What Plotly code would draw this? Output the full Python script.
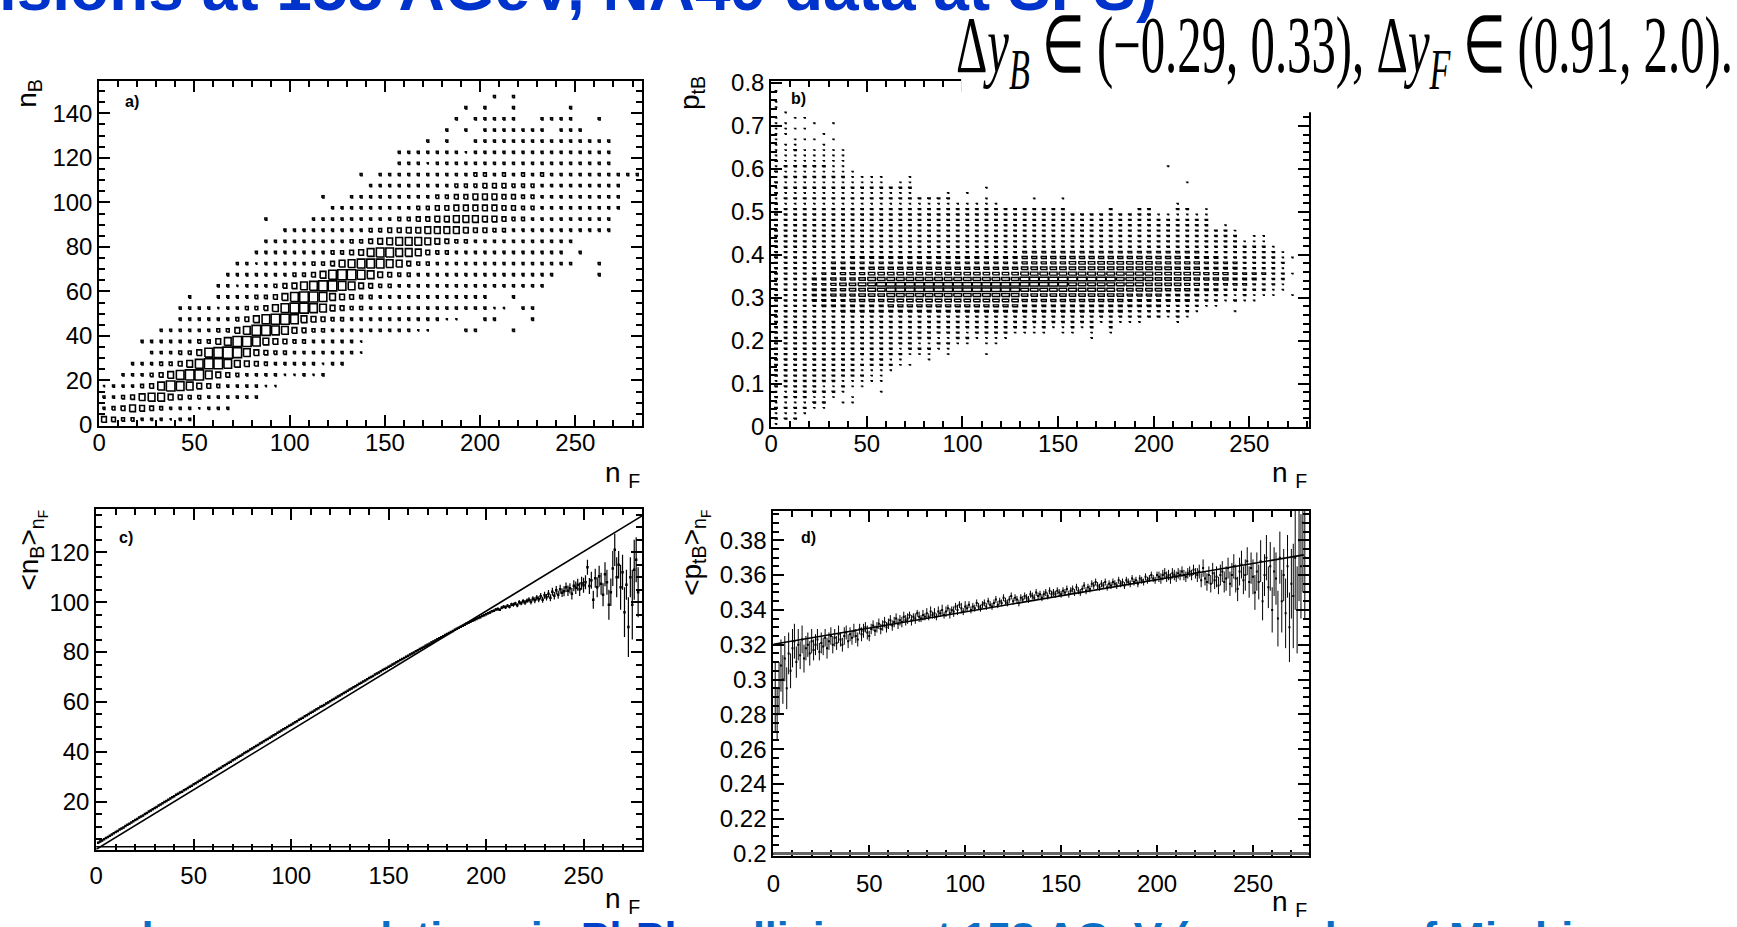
import plotly.graph_objects as go

W, H = 1737, 927
FONT = "Liberation Sans, Arial, Helvetica, sans-serif"

# ---------------- panel a) n_B vs n_F : box histogram (bins 5 x 5) ----------------
A_NF_BIN = 5.0
A_NB_BIN = 5.0
# one entry per n_B bin (0-5, 5-10, ...): (first n_F bin index, box levels per n_F bin; '.' = empty, 'a' = 10)
A_ROWS = [
    (0, "5433222122"),
    (0, "23465432221222"),
    (0, "22346775433222222"),
    (0, "1222347987543222211"),
    (2, "2223468997543222211212"),
    (3, "22233468998654322222122"),
    (5, "22233589a97543322222221"),
    (4, "222222335799865433222221"),
    (6, "22222233579987543322222222211...22...2"),
    (8, "222222346899865433222222222211..22...2"),
    (8, "22221223346899875433222222222222211.22"),
    (9, "2..22223346899865433222222222222..2"),
    (12, "22122234578998754332222222222222222"),
    (13, "22222223346899875433222222222222222....2"),
    (14, "221222223346788876433222222222222222..2"),
    (16, "222222223345788776433222222222222.2"),
    (17, "222222222334567776543322222222222"),
    (19, "22222222233445566665443322222222222"),
    (17, "2....22222222233445566655433222222222"),
    (24, "2222222223344555554433222222222"),
    (23, "2..22222222233445554433222222222"),
    (28, "222222222333444333222222222"),
    (27, "2.2222222222332323232222222222"),
    (31, "22212222222222222222222"),
    (31, "22222221222222222222222"),
    (34, "2.2..222222222222222"),
    (36, "2.2.2222222.222"),
    (37, "2.22222..2222..2"),
    (38, "2.2..2.....2"),
    (41, "2.2"),
]

# ---------------- panel b) p_tB vs n_F : box histogram (bins 5 x 0.0125) ----------------
B_NF_BIN = 5.0
B_PT_BIN = 0.0125
# one entry per n_F bin: (first p_t bin index, levels going up in p_t; spaces only group the digits)
B_COLS = [
    (0, "1212121212 2222222222 2222222222 2222222222 2212121212 1111111101 101"),
    (1, "212121222 2222222222 2222222222 2222222222 2121212121 111011101"),
    (1, "212122222 2222222222 2222222222 2222222222 2121212121 12110101"),
    (2, "12122222 2222222222 2222222222 2222222222 2121212121 11010101"),
    (3, "1212222 2222222222 2223333322 2222222222 2121212121 1101001"),
    (3, "1212122 2222222222 2233333332 2222222222 2121212121 11101"),
    (5, "12122 2222222222 2233444433 3222222222 2121212111 1101001"),
    (4, "101212 2222222222 2333445443 3222222222 2121212111 11"),
    (4, "110112 2222222222 2334455443 3322222222 212121110"),
    (7, "112 1212222222 2334556543 3322222222 2121211"),
    (8, "11 1222222222 2334566654 3322222222 2121211"),
    (6, "1011 1222222222 2334567654 3322222222 2121211"),
    (10, "1212222222 2345677654 3322222222 21212"),
    (11, "112122222 2345677654 3322222222 212121"),
    (11, "101222222 2345677654 3322222222 2121211"),
    (13, "1212222 2345677654 3322222222 212"),
    (12, "11212222 2345677654 3322222222 212"),
    (14, "121222 2345677654 3322222222 212"),
    (13, "1121222 2345677654 3322222222 2121"),
    (15, "12222 2345677654 3322222222 21"),
    (15, "12122 2345677654 3322222222 2101"),
    (16, "1222 2345677654 3322222222 21"),
    (13, "1011222 2345677654 3322222222 21101"),
    (15, "11222 2345677654 3322222222 21"),
    (16, "1222 2345677654 3322222222 2"),
    (17, "122 2345677654 3322222222 2"),
    (17, "122 2334567765 4432222222 2"),
    (17, "112 2334567765 4432222222 201"),
    (17, "122 2334567765 4432222222 2"),
    (18, "12 2334567765 4432222222 2"),
    (17, "112 2334567765 4432222222 201"),
    (17, "122 2334566765 5432222222"),
    (18, "12 2334566765 5432222222"),
    (16, "1122 2334566765 5432222222"),
    (19, "1 2334566765 5432222222"),
    (17, "122 2334566765 5432222222 2"),
    (19, "1 2334556665 5432222222"),
    (19, "1 2233456665 5432222222"),
    (19, "1 2233456665 5432222222 2"),
    (20, "2233455665 5432222222 2"),
    (20, "2233455555 4432222221"),
    (20, "1223345555 4432222221 000000001"),
    (19, "1 2223345554 4432222221 21"),
    (20, "1223344554 4332222221 200001"),
    (21, "122334454 4332222221"),
    (22, "12233443 3322222221 1"),
    (22, "12233443 3322222"),
    (23, "1223443 32222221"),
    (21, "102123333 3222221"),
    (23, "1223332 22221"),
    (23, "1122332 222211"),
    (24, "122232 222211"),
    (24, "112222 2221"),
    (25, "11221 211"),
    (24, "100010 01"),
]

# ---------------- panel c) <n_B> vs n_F (n_F = 1, 2, ...) ----------------
C_MEAN = [
    3.5, 4.0, 4.4, 4.9, 5.4, 5.8, 6.3, 6.8, 7.3, 7.8,
    8.2, 8.8, 9.2, 9.6, 10.2, 10.7, 11.1, 11.6, 12.1, 12.6,
    13.0, 13.6, 14.0, 14.4, 15.0, 15.4, 16.0, 16.4, 16.9, 17.4,
    17.8, 18.4, 18.8, 19.3, 19.8, 20.2, 20.7, 21.2, 21.7, 22.1,
    22.7, 23.1, 23.6, 24.0, 24.6, 25.0, 25.5, 26.0, 26.4, 27.0,
    27.4, 27.9, 28.4, 28.8, 29.4, 29.8, 30.3, 30.8, 31.2, 31.8,
    32.2, 32.7, 33.2, 33.6, 34.2, 34.6, 35.1, 35.6, 36.0, 36.6,
    37.0, 37.5, 38.0, 38.4, 38.9, 39.5, 39.9, 40.3, 40.9, 41.3,
    41.8, 42.3, 42.7, 43.3, 43.7, 44.2, 44.7, 45.1, 45.6, 46.1,
    46.6, 47.0, 47.6, 48.0, 48.5, 49.0, 49.4, 49.9, 50.4, 50.8,
    51.3, 51.8, 52.2, 52.8, 53.2, 53.6, 54.2, 54.6, 55.1, 55.6,
    56.0, 56.5, 57.0, 57.4, 58.0, 58.4, 58.8, 59.4, 59.8, 60.3,
    60.8, 61.2, 61.7, 62.2, 62.6, 63.1, 63.6, 64.0, 64.5, 65.0,
    65.4, 65.9, 66.3, 66.8, 67.3, 67.7, 68.2, 68.6, 69.1, 69.6,
    70.0, 70.4, 71.0, 71.4, 71.8, 72.3, 72.8, 73.2, 73.6, 74.1,
    74.5, 75.0, 75.4, 75.9, 76.3, 76.8, 77.2, 77.6, 78.1, 78.5,
    79.0, 79.4, 79.8, 80.3, 80.7, 81.2, 81.6, 82.0, 82.5, 82.9,
    83.3, 83.8, 84.2, 84.6, 85.1, 85.5, 85.9, 86.3, 86.8, 87.2,
    87.6, 88.0, 88.4, 88.9, 89.3, 89.7, 90.1, 90.5, 90.9, 91.4,
    91.7, 92.1, 92.5, 92.9, 93.3, 93.7, 94.0, 94.5, 94.8, 95.2,
    95.6, 95.9, 96.4, 96.6, 97.1, 97.3, 97.0, 97.8, 98.2, 98.0,
    98.6, 98.2, 99.1, 99.0, 99.5, 98.8, 100.0, 99.6, 100.4, 99.9,
    100.6, 101.0, 100.2, 101.4, 100.8, 101.8, 101.2, 102.4, 101.0, 102.8,
    102.0, 103.4, 101.8, 104.2, 102.6, 104.8, 103.0, 105.2, 103.8, 104.4,
    106.0, 104.6, 105.6, 103.4, 106.6, 105.8, 107.0, 105.2, 107.6, 106.8,
    108.0, 114.0, 106.5, 108.8, 101.0, 109.6, 106.0, 110.4, 107.4, 103.0,
    111.2, 108.0, 99.0, 104.0, 113.5, 121.0, 110.0, 115.0, 106.0, 112.0,
    96.0, 107.0, 90.0, 110.0, 99.0, 113.0, 117.0, 104.0,
]
C_ERR = [
    0.4, 0.4, 0.4, 0.3, 0.3, 0.3, 0.3, 0.3, 0.3, 0.3,
    0.3, 0.3, 0.3, 0.3, 0.3, 0.3, 0.3, 0.3, 0.3, 0.3,
    0.3, 0.3, 0.3, 0.3, 0.3, 0.3, 0.3, 0.3, 0.3, 0.3,
    0.3, 0.3, 0.3, 0.3, 0.3, 0.3, 0.3, 0.3, 0.3, 0.3,
    0.3, 0.3, 0.3, 0.3, 0.3, 0.3, 0.3, 0.3, 0.3, 0.3,
    0.3, 0.3, 0.3, 0.3, 0.3, 0.3, 0.3, 0.3, 0.3, 0.3,
    0.3, 0.3, 0.3, 0.3, 0.3, 0.3, 0.3, 0.3, 0.3, 0.3,
    0.3, 0.3, 0.3, 0.3, 0.3, 0.3, 0.3, 0.3, 0.3, 0.3,
    0.3, 0.3, 0.3, 0.3, 0.3, 0.3, 0.3, 0.3, 0.3, 0.3,
    0.3, 0.3, 0.3, 0.3, 0.3, 0.3, 0.3, 0.3, 0.3, 0.3,
    0.3, 0.3, 0.3, 0.3, 0.3, 0.3, 0.3, 0.3, 0.3, 0.3,
    0.3, 0.3, 0.3, 0.3, 0.3, 0.3, 0.3, 0.3, 0.3, 0.3,
    0.3, 0.3, 0.3, 0.3, 0.3, 0.3, 0.3, 0.3, 0.3, 0.3,
    0.3, 0.3, 0.3, 0.3, 0.3, 0.3, 0.3, 0.3, 0.3, 0.3,
    0.3, 0.3, 0.3, 0.3, 0.3, 0.3, 0.3, 0.3, 0.3, 0.3,
    0.3, 0.3, 0.3, 0.3, 0.3, 0.3, 0.3, 0.3, 0.3, 0.3,
    0.3, 0.3, 0.3, 0.3, 0.3, 0.4, 0.4, 0.4, 0.4, 0.4,
    0.4, 0.4, 0.4, 0.4, 0.4, 0.4, 0.4, 0.4, 0.4, 0.4,
    0.4, 0.4, 0.4, 0.4, 0.4, 0.4, 0.4, 0.4, 0.4, 0.4,
    0.4, 0.4, 0.4, 0.4, 0.4, 0.4, 0.4, 0.4, 0.4, 0.4,
    0.4, 0.5, 0.4, 0.5, 0.5, 0.6, 0.5, 0.6, 0.6, 0.7,
    0.6, 0.7, 0.7, 0.8, 0.7, 0.8, 0.9, 0.8, 0.9, 1.0,
    0.9, 1.0, 1.1, 1.0, 1.2, 1.1, 1.2, 1.3, 1.2, 1.4,
    1.3, 1.5, 1.4, 1.6, 1.5, 1.7, 1.6, 1.8, 1.7, 2.0,
    1.9, 2.1, 2.0, 2.3, 2.2, 2.5, 2.4, 2.7, 2.6, 3.0,
    2.8, 3.0, 3.2, 3.4, 3.6, 3.8, 4.0, 4.2, 4.4, 4.6,
    4.8, 5.0, 6.0, 5.5, 7.0, 6.5, 8.0, 5.5, 9.0, 7.0,
    10.0, 6.0, 12.0, 8.0, 14.0, 12.0, 9.0, 10.0,
]
C_FIT_X = [0.0, 280.0]
C_FIT_Y = [0.9, 134.6]

# ---------------- panel d) <p_tB> vs n_F (n_F = 1, 2, ...) ----------------
D_MEAN = [
    0.2900, 0.2800, 0.2950, 0.3080, 0.3000, 0.3120, 0.2950, 0.3150, 0.3050, 0.3180,
    0.3220, 0.3100, 0.3200, 0.3140, 0.3230, 0.3120, 0.3180, 0.3200, 0.3150, 0.3220,
    0.3170, 0.3200, 0.3230, 0.3160, 0.3210, 0.3190, 0.3240, 0.3180, 0.3220, 0.3250,
    0.3200, 0.3240, 0.3210, 0.3260, 0.3230, 0.3200, 0.3250, 0.3270, 0.3220, 0.3260,
    0.3240, 0.3280, 0.3250, 0.3230, 0.3290, 0.3260, 0.3280, 0.3300, 0.3270, 0.3250,
    0.3290, 0.3310, 0.3280, 0.3300, 0.3320, 0.3290, 0.3310, 0.3330, 0.3300, 0.3320,
    0.3340, 0.3310, 0.3330, 0.3350, 0.3320, 0.3340, 0.3330, 0.3360, 0.3340, 0.3350,
    0.3370, 0.3340, 0.3360, 0.3350, 0.3380, 0.3360, 0.3350, 0.3370, 0.3360, 0.3380,
    0.3360, 0.3390, 0.3370, 0.3380, 0.3360, 0.3390, 0.3380, 0.3400, 0.3370, 0.3390,
    0.3410, 0.3380, 0.3400, 0.3390, 0.3420, 0.3400, 0.3430, 0.3410, 0.3390, 0.3420,
    0.3410, 0.3430, 0.3400, 0.3420, 0.3410, 0.3440, 0.3420, 0.3410, 0.3430, 0.3440,
    0.3420, 0.3450, 0.3430, 0.3420, 0.3440, 0.3460, 0.3430, 0.3450, 0.3440, 0.3470,
    0.3450, 0.3440, 0.3460, 0.3480, 0.3450, 0.3470, 0.3460, 0.3440, 0.3470, 0.3460,
    0.3480, 0.3470, 0.3460, 0.3490, 0.3480, 0.3470, 0.3500, 0.3480, 0.3490, 0.3470,
    0.3490, 0.3500, 0.3480, 0.3510, 0.3490, 0.3500, 0.3490, 0.3510, 0.3500, 0.3490,
    0.3510, 0.3500, 0.3520, 0.3490, 0.3510, 0.3520, 0.3500, 0.3530, 0.3510, 0.3500,
    0.3520, 0.3540, 0.3510, 0.3530, 0.3520, 0.3550, 0.3540, 0.3560, 0.3540, 0.3530,
    0.3550, 0.3540, 0.3560, 0.3530, 0.3550, 0.3540, 0.3560, 0.3550, 0.3540, 0.3570,
    0.3550, 0.3560, 0.3540, 0.3570, 0.3560, 0.3550, 0.3580, 0.3560, 0.3570, 0.3550,
    0.3580, 0.3570, 0.3560, 0.3590, 0.3570, 0.3580, 0.3600, 0.3580, 0.3570, 0.3600,
    0.3590, 0.3580, 0.3600, 0.3610, 0.3590, 0.3600, 0.3580, 0.3610, 0.3600, 0.3590,
    0.3610, 0.3600, 0.3620, 0.3600, 0.3590, 0.3610, 0.3620, 0.3600, 0.3630, 0.3610,
    0.3600, 0.3620, 0.3570, 0.3640, 0.3580, 0.3560, 0.3600, 0.3550, 0.3610, 0.3570,
    0.3590, 0.3540, 0.3600, 0.3620, 0.3560, 0.3580, 0.3640, 0.3550, 0.3600, 0.3650,
    0.3580, 0.3520, 0.3620, 0.3660, 0.3570, 0.3600, 0.3680, 0.3560, 0.3640, 0.3590,
    0.3500, 0.3620, 0.3560, 0.3680, 0.3450, 0.3600, 0.3700, 0.3530, 0.3650, 0.3400,
    0.3620, 0.3580, 0.3350, 0.3700, 0.3450, 0.3600, 0.3380, 0.3650, 0.3300, 0.3550,
    0.3480, 0.3700, 0.3400, 0.3800, 0.3650, 0.3900, 0.3700,
]
D_ERR = [
    0.020, 0.015, 0.015, 0.015, 0.014, 0.013, 0.012, 0.012, 0.010, 0.011,
    0.010, 0.009, 0.009, 0.008, 0.008, 0.008, 0.007, 0.007, 0.007, 0.007,
    0.006, 0.006, 0.006, 0.005, 0.006, 0.005, 0.005, 0.006, 0.005, 0.005,
    0.005, 0.005, 0.004, 0.005, 0.004, 0.004, 0.005, 0.004, 0.004, 0.004,
    0.004, 0.004, 0.004, 0.004, 0.003, 0.004, 0.004, 0.003, 0.004, 0.003,
    0.003, 0.003, 0.003, 0.003, 0.003, 0.003, 0.003, 0.003, 0.003, 0.003,
    0.003, 0.003, 0.003, 0.003, 0.003, 0.003, 0.003, 0.003, 0.003, 0.003,
    0.002, 0.003, 0.002, 0.003, 0.002, 0.003, 0.002, 0.003, 0.002, 0.003,
    0.002, 0.003, 0.002, 0.003, 0.002, 0.003, 0.002, 0.003, 0.002, 0.003,
    0.002, 0.003, 0.002, 0.003, 0.002, 0.003, 0.002, 0.003, 0.002, 0.003,
    0.002, 0.002, 0.002, 0.002, 0.002, 0.002, 0.002, 0.002, 0.002, 0.002,
    0.002, 0.002, 0.002, 0.002, 0.002, 0.002, 0.002, 0.002, 0.002, 0.002,
    0.002, 0.002, 0.002, 0.002, 0.002, 0.002, 0.002, 0.002, 0.002, 0.002,
    0.002, 0.002, 0.002, 0.002, 0.002, 0.002, 0.002, 0.002, 0.002, 0.002,
    0.002, 0.002, 0.002, 0.002, 0.002, 0.002, 0.002, 0.002, 0.002, 0.002,
    0.002, 0.002, 0.002, 0.002, 0.002, 0.002, 0.002, 0.002, 0.002, 0.002,
    0.002, 0.002, 0.002, 0.002, 0.002, 0.002, 0.002, 0.002, 0.002, 0.002,
    0.002, 0.002, 0.002, 0.002, 0.002, 0.002, 0.002, 0.002, 0.002, 0.002,
    0.002, 0.002, 0.002, 0.002, 0.002, 0.002, 0.002, 0.002, 0.002, 0.002,
    0.002, 0.002, 0.002, 0.002, 0.002, 0.002, 0.002, 0.002, 0.002, 0.002,
    0.003, 0.003, 0.003, 0.003, 0.003, 0.003, 0.003, 0.003, 0.003, 0.003,
    0.003, 0.003, 0.003, 0.003, 0.003, 0.003, 0.003, 0.003, 0.003, 0.003,
    0.004, 0.004, 0.004, 0.005, 0.004, 0.005, 0.005, 0.005, 0.006, 0.005,
    0.006, 0.005, 0.006, 0.006, 0.006, 0.007, 0.006, 0.007, 0.007, 0.007,
    0.008, 0.007, 0.008, 0.008, 0.008, 0.009, 0.008, 0.009, 0.009, 0.010,
    0.010, 0.011, 0.010, 0.012, 0.011, 0.012, 0.013, 0.012, 0.014, 0.013,
    0.014, 0.015, 0.016, 0.015, 0.018, 0.015, 0.020, 0.018, 0.020, 0.020,
    0.030, 0.030, 0.025, 0.035, 0.030, 0.040, 0.035,
]
D_FIT_X = [0.0, 276.5]
D_FIT_Y = [0.3203, 0.3716]

# ---------------- axis ticks ----------------
NF_TICKS = [0, 50, 100, 150, 200, 250]
NF_LABELS = ["0", "50", "100", "150", "200", "250"]
A_Y_TICKS = [0, 20, 40, 60, 80, 100, 120, 140]
A_Y_LABELS = ["0", "20", "40", "60", "80", "100", "120", "140"]
B_Y_TICKS = [0, 0.1, 0.2, 0.3, 0.4, 0.5, 0.6, 0.7, 0.8]
B_Y_LABELS = ["0", "0.1", "0.2", "0.3", "0.4", "0.5", "0.6", "0.7", "0.8"]
C_Y_TICKS = [20, 40, 60, 80, 100, 120]
C_Y_LABELS = ["20", "40", "60", "80", "100", "120"]
D_Y_TICKS = [0.2, 0.22, 0.24, 0.26, 0.28, 0.3, 0.32, 0.34, 0.36, 0.38]
D_Y_LABELS = ["0.2", "0.22", "0.24", "0.26", "0.28", "0.3", "0.32", "0.34", "0.36", "0.38"]

LEVEL = {c: i for i, c in enumerate("0123456789a")}


def boxes(cells, wx, wy, lmax_x, lmax_y):
    xs, ys = [], []
    for xc, yc, lv in cells:
        hx = 0.5 * wx * lv / lmax_x
        hy = 0.5 * wy * lv / lmax_y
        xs += [xc - hx, xc + hx, xc + hx, xc - hx, xc - hx, None]
        ys += [yc - hy, yc - hy, yc + hy, yc + hy, yc - hy, None]
    return xs, ys


cells_a = []
for r, (k0, s) in enumerate(A_ROWS):
    s = s.replace(" ", "")
    for i, ch in enumerate(s):
        if ch in ".0":
            continue
        cells_a.append(((k0 + i + 0.5) * A_NF_BIN, (r + 0.5) * A_NB_BIN, LEVEL[ch]))

cells_b = []
for k, (j0, s) in enumerate(B_COLS):
    s = s.replace(" ", "")
    for i, ch in enumerate(s):
        if ch in ".0":
            continue
        cells_b.append(((k + 0.5) * B_NF_BIN, (j0 + i + 0.5) * B_PT_BIN, LEVEL[ch]))

ax_, ay_ = boxes(cells_a, A_NF_BIN, A_NB_BIN, 10.0, 10.0)
bx_, by_ = boxes(cells_b, B_NF_BIN, B_PT_BIN, 7.5, 11.0)

C_NF = list(range(1, len(C_MEAN) + 1))
D_NF = list(range(1, len(D_MEAN) + 1))

fig = go.Figure()
fig.add_trace(go.Scatter(x=ax_, y=ay_, mode="lines", xaxis="x", yaxis="y",
                         line=dict(color="black", width=1.6, simplify=False), hoverinfo="skip"))
fig.add_trace(go.Scatter(x=bx_, y=by_, mode="lines", xaxis="x2", yaxis="y2",
                         line=dict(color="black", width=1.4, simplify=False), hoverinfo="skip"))
fig.add_trace(go.Scatter(x=C_FIT_X, y=C_FIT_Y, mode="lines", xaxis="x3", yaxis="y3",
                         line=dict(color="black", width=1.6)))
fig.add_trace(go.Scatter(x=C_NF, y=C_MEAN, mode="markers", xaxis="x3", yaxis="y3",
                         marker=dict(symbol="square", size=2.5, color="black"),
                         error_y=dict(type="data", array=C_ERR, visible=True, thickness=1.2,
                                      width=0, color="black")))
fig.add_trace(go.Scatter(x=D_FIT_X, y=D_FIT_Y, mode="lines", xaxis="x4", yaxis="y4",
                         line=dict(color="black", width=1.6)))
fig.add_trace(go.Scatter(x=D_NF, y=D_MEAN, mode="markers", xaxis="x4", yaxis="y4",
                         marker=dict(symbol="square", size=2, color="black"),
                         error_y=dict(type="data", array=D_ERR, visible=True, thickness=1.0,
                                      width=0, color="black")))


def xd(a, b):
    return [a / W, b / W]


def yd(top, bottom):
    return [1 - bottom / H, 1 - top / H]


def axis(dom, rng, tv, tt, mdt, m0, standoff=0):
    return dict(domain=dom, range=rng, tickmode="array", tickvals=tv, ticktext=tt,
                showline=True, linecolor="black", linewidth=2, mirror="allticks",
                ticks="inside", ticklen=11, tickwidth=1.5, tickcolor="black",
                showgrid=False, zeroline=False, fixedrange=True,
                ticklabelstandoff=standoff,
                tickfont=dict(family=FONT, size=24, color="black"),
                minor=dict(ticks="inside", ticklen=6, tickwidth=1.5, tickcolor="black",
                           tickmode="linear", tick0=m0, dtick=mdt, showgrid=False))


fig.update_layout(
    width=W, height=H, margin=dict(l=0, r=0, t=0, b=0),
    paper_bgcolor="white", plot_bgcolor="white", showlegend=False,
    xaxis=axis(xd(92.6, 637.6), [0, 285], NF_TICKS, NF_LABELS, 10, 0, -5),
    yaxis=axis(yd(71.7, 425.7), [-0.3, 154.6], A_Y_TICKS, A_Y_LABELS, 5, 0),
    xaxis2=axis(xd(767.3, 1306.9), [0, 281], NF_TICKS, NF_LABELS, 10, 0, -5),
    yaxis2=axis(yd(71.7, 426.7), [0, 0.805], B_Y_TICKS, B_Y_LABELS, 0.02, 0),
    xaxis3=axis(xd(89.6, 637.6), [0, 280], NF_TICKS, NF_LABELS, 10, 0, 3),
    yaxis3=axis(yd(511.7, 861.0), [0.7, 137.2], C_Y_TICKS, C_Y_LABELS, 5, 0),
    xaxis4=axis(xd(769.4, 1306.9), [0, 279], NF_TICKS, NF_LABELS, 10, 0, 5),
    yaxis4=axis(yd(513.3, 867.3), [0.1987, 0.3968], D_Y_TICKS, D_Y_LABELS, 0.005, 0.2),
)
for i in ["", "2", "3", "4"]:
    fig.layout["yaxis" + i].anchor = "x" + i
    fig.layout["xaxis" + i].anchor = "y" + i


def P(x, y):
    return x / W, 1 - y / H


ann = []


def text(x, y, s, size, xanchor="center", yanchor="middle", angle=0, color="black",
         family=FONT, bold=False):
    px, py = P(x, y)
    ann.append(dict(x=px, y=py, xref="paper", yref="paper", text=s, showarrow=False,
                    xanchor=xanchor, yanchor=yanchor, textangle=angle,
                    font=dict(family=family, size=size, color=color,
                              weight=("bold" if bold else "normal"))))


# axis titles
text(22, 84, "n<sub>B</sub>", 28, angle=-90)
text(638, 476, "n <sub>F</sub>", 28, xanchor="right")
text(688, 84, "p<sub>tB</sub>", 28, angle=-90)
text(1307, 476, "n <sub>F</sub>", 28, xanchor="right")
text(25, 553, "&lt;n<sub>B</sub>&gt;<sub>n<sub>F</sub></sub>", 28, angle=-90)
text(638, 913, "n <sub>F</sub>", 28, xanchor="right")
text(690, 556, "&lt;p<sub>tB</sub>&gt;<sub>n<sub>F</sub></sub>", 28, angle=-90)
text(1307, 916, "n <sub>F</sub>", 28, xanchor="right")

# panel labels
text(126, 93, "a)", 16, bold=True)
text(795, 90, "b)", 16, bold=True)
text(119, 540, "c)", 16, bold=True)
text(805, 541, "d)", 16, bold=True)

# slide title (cut at the top of the picture)
text(1157, -24, "(PbPb collisions at 158 AGeV, NA49 data at SPS)", 64, xanchor="right",
     color="#0033cc", bold=True)

# rapidity windows formula (squeezed horizontally by the page script below)
text(1735, 41,
     "Δ<i>y</i><sub><i>B</i></sub> ∈ (−0.29, 0.33), Δ<i>y</i><sub><i>F</i></sub> ∈ (0.91, 2.0).",
     80, xanchor="right", family="Liberation Serif, Times New Roman, serif")

# slide caption (cut at the bottom of the picture)
text(8, 954,
     "n<sub>B</sub> and p<sub>t</sub>-n<sub>F</sub> correlations in "
     "<span style='color:#0040c8'>PbPb</span> collisions at 158 AGeV (examples of Min bias",
     43, xanchor="left", color="#0a6fc4", bold=True)

fig.update_layout(annotations=ann)

shapes = [
    # white patch behind the formula, hiding the top of panel b's frame
    dict(type="rect", xref="paper", yref="paper", x0=958 / W, x1=1.0,
         y0=1 - 104 / H, y1=1.02, fillcolor="white", line=dict(width=0), layer="above"),
    # thick bottom edges of panels c and d
    dict(type="line", xref="paper", yref="paper", x0=89.6 / W, x1=637.6 / W,
         y0=1 - 858 / H, y1=1 - 858 / H, line=dict(color="black", width=1.5), layer="above"),
    dict(type="line", xref="paper", yref="paper", x0=769.4 / W, x1=1306.9 / W,
         y0=1 - 865 / H, y1=1 - 865 / H, line=dict(color="#666666", width=3), layer="above"),
]
fig.update_layout(shapes=shapes)

PAGE_JS = """
(function () {
  document.body.style.margin = '0';
  document.body.style.padding = '0';
  document.documentElement.style.overflow = 'hidden';
  var texts = document.querySelectorAll('text.annotation-text');
  for (var i = 0; i < texts.length; i++) {
    var t = texts[i];
    if (t.textContent.indexOf('\\u2208') >= 0) {
      var b = t.getBBox();
      var cx = b.x + b.width;
      t.setAttribute('transform', 'translate(' + cx + ',0) scale(0.61,1) translate(' + (-cx) + ',0)');
    }
  }
})();
"""

fig.write_html("out.html", post_script=PAGE_JS)
